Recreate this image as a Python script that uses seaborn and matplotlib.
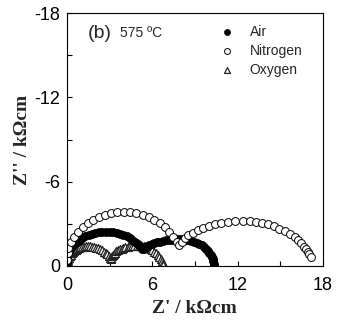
import matplotlib
matplotlib.use("Agg")
import matplotlib.pyplot as plt
from matplotlib.ticker import MultipleLocator
import pandas as pd
import seaborn as sns

# Nyquist spectra at 575 ºC; Z' and Z'' in kΩcm
air_zre = [0.02, 0.02, 0.03, 0.12, 0.24, 0.37, 0.53, 0.70, 0.89, 1.09, 1.30, 1.52,
           1.76, 2.00, 2.25, 2.50, 2.75, 3.00, 3.25, 3.50, 3.74, 3.98, 4.20, 4.41,
           4.61, 4.80, 4.97, 5.13, 5.26, 5.41, 5.52, 5.65, 5.79, 5.96, 6.13, 6.32,
           6.53, 6.74, 6.96, 7.19, 7.42, 7.66, 7.90, 8.11, 8.33, 8.53, 8.74, 8.94,
           9.13, 9.31, 9.48, 9.63, 9.78, 9.91, 10.02, 10.12, 10.20, 10.27, 10.31,
           10.34, 10.35]
air_zim = [-0.30, -0.55, -0.84, -1.04, -1.23, -1.41, -1.58, -1.73, -1.88, -2.01,
           -2.12, -2.22, -2.30, -2.37, -2.41, -2.44, -2.45, -2.44, -2.41, -2.37,
           -2.30, -2.22, -2.12, -2.01, -1.88, -1.73, -1.58, -1.41, -1.23, -1.21,
           -1.30, -1.39, -1.47, -1.55, -1.62, -1.68, -1.74, -1.79, -1.83, -1.86,
           -1.88, -1.90, -1.90, -1.89, -1.87, -1.84, -1.79, -1.72, -1.65, -1.56,
           -1.46, -1.34, -1.22, -1.09, -0.95, -0.80, -0.65, -0.49, -0.33, -0.17,
           0.00]

nitrogen_zre = [0.03, 0.05, 0.07, 0.28, 0.52, 0.81, 1.12, 1.47, 1.85, 2.25, 2.67,
                3.11, 3.55, 4.00, 4.45, 4.89, 5.33, 5.75, 6.15, 6.53, 6.88, 7.20,
                7.48, 7.72, 7.91, 8.07, 8.29, 8.55, 8.85, 9.20, 9.57, 9.98, 10.41,
                10.87, 11.34, 11.83, 12.40, 12.85, 13.29, 13.72, 14.14, 14.56,
                14.95, 15.33, 15.68, 16.01, 16.25, 16.47, 16.68, 16.82, 16.94,
                17.06, 17.16]
nitrogen_zim = [-0.45, -0.90, -1.30, -1.70, -2.08, -2.43, -2.75, -3.03, -3.27,
                -3.48, -3.64, -3.76, -3.83, -3.85, -3.83, -3.76, -3.64, -3.48,
                -3.27, -3.03, -2.75, -2.43, -2.08, -1.70, -1.50, -1.74, -1.96,
                -2.18, -2.38, -2.56, -2.72, -2.86, -2.98, -3.07, -3.14, -3.18,
                -3.20, -3.19, -3.14, -3.06, -2.96, -2.83, -2.66, -2.48, -2.26,
                -2.03, -1.82, -1.61, -1.38, -1.20, -1.02, -0.83, -0.63]

oxygen_zre = [0.02, 0.05, 0.09, 0.14, 0.19, 0.26, 0.34, 0.43, 0.52, 0.62, 0.73,
              0.84, 0.95, 1.08, 1.20, 1.32, 1.45, 1.61, 1.76, 1.92, 2.07, 2.21,
              2.35, 2.48, 2.61, 2.72, 2.83, 2.93, 3.01, 3.08, 3.11, 3.16, 3.22,
              3.30, 3.38, 3.48, 3.59, 3.71, 3.84, 3.98, 4.12, 4.27, 4.42, 4.58,
              4.74, 4.90, 5.07, 5.24, 5.41, 5.57, 5.72, 5.88, 6.02, 6.15, 6.28,
              6.39, 6.50, 6.59, 6.67, 6.73, 6.78]
oxygen_zim = [-0.24, -0.36, -0.48, -0.59, -0.70, -0.80, -0.90, -0.99, -1.07, -1.15,
              -1.21, -1.27, -1.32, -1.35, -1.38, -1.40, -1.40, -1.39, -1.38, -1.35,
              -1.30, -1.25, -1.19, -1.11, -1.03, -0.93, -0.83, -0.72, -0.60, -0.48,
              -0.60, -0.69, -0.79, -0.88, -0.96, -1.04, -1.11, -1.18, -1.24, -1.30,
              -1.34, -1.38, -1.41, -1.43, -1.45, -1.45, -1.44, -1.42, -1.39, -1.34,
              -1.28, -1.20, -1.12, -1.02, -0.91, -0.79, -0.66, -0.53, -0.38, -0.23,
              -0.08]

gases = ["Air", "Nitrogen", "Oxygen"]
x_ticks = [0, 6, 12, 18]
y_ticks = [0, -6, -12, -18]

df = pd.concat([
    pd.DataFrame({"zre": air_zre, "zim": air_zim, "gas": "Air"}),
    pd.DataFrame({"zre": nitrogen_zre, "zim": nitrogen_zim, "gas": "Nitrogen"}),
    pd.DataFrame({"zre": oxygen_zre, "zim": oxygen_zim, "gas": "Oxygen"}),
], ignore_index=True)

sns.set_theme(style="ticks")
plt.rcParams["font.family"] = ["Liberation Sans", "DejaVu Sans"]
plt.rcParams["axes.unicode_minus"] = False

fig = plt.figure(figsize=(3.38, 3.23), dpi=100)
ax = fig.add_axes([0.198, 0.1765, 0.757, 0.783])

marker_style = {
    "Air": dict(marker="o", s=34, color="black", edgecolor="black", linewidth=0.5),
    "Nitrogen": dict(marker="o", s=32, color="white", edgecolor="black", linewidth=0.7),
    "Oxygen": dict(marker="^", s=32, color="white", edgecolor="#222222", linewidth=0.9),
}
for gas in ["Oxygen", "Air", "Nitrogen"]:
    sns.scatterplot(data=df[df["gas"] == gas], x="zre", y="zim", ax=ax,
                    label=gas, **marker_style[gas])

ax.set_xlim(0, 18)
ax.set_ylim(0, -18)
ax.set_xticks(x_ticks)
ax.set_yticks(y_ticks)
ax.set_xticklabels([str(v) for v in x_ticks])
ax.set_yticklabels([str(v) for v in y_ticks])
ax.xaxis.set_minor_locator(MultipleLocator(3))
ax.yaxis.set_minor_locator(MultipleLocator(3))
ax.tick_params(which="both", direction="in", length=3.5, width=0.8,
               color="black", top=False, right=False)
ax.tick_params(axis="both", labelsize=13, labelcolor="black")
ax.tick_params(axis="x", pad=8)
ax.tick_params(axis="y", pad=5)
for sp in ax.spines.values():
    sp.set_linewidth(0.8)
    sp.set_color("black")

serif = ["Liberation Serif", "DejaVu Serif"]
ax.set_xlabel("Z' / kΩcm", fontsize=14, fontweight="bold", family=serif, labelpad=4)
ax.set_ylabel("Z'' / kΩcm", fontsize=14, fontweight="bold", family=serif, labelpad=2)

ax.text(0.082, 0.921, "(b)", transform=ax.transAxes, fontsize=14, va="center")
ax.text(0.207, 0.921, "575 ºC", transform=ax.transAxes, fontsize=10, va="center")

handles, labels = ax.get_legend_handles_labels()
order = [labels.index(g) for g in gases]
ax.legend([handles[i] for i in order], [labels[i] for i in order],
          loc="upper left", bbox_to_anchor=(0.598, 0.953), frameon=False,
          fontsize=10, handlelength=1.0, handletextpad=1.15, labelspacing=0.35,
          borderpad=0, borderaxespad=0, scatterpoints=1, markerscale=0.75)

fig.savefig("out.png", dpi=100)
